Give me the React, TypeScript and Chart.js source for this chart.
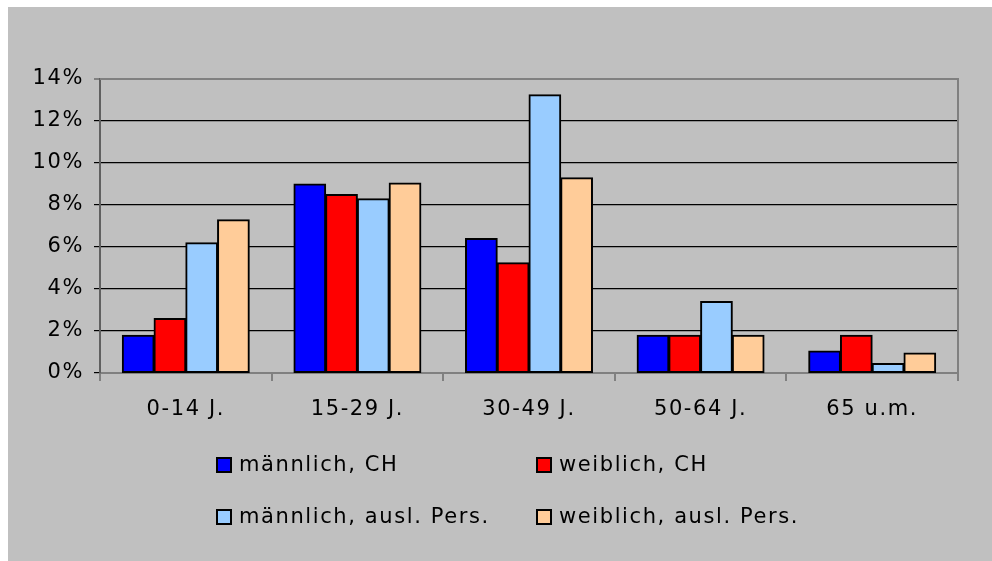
import React, { useEffect, useRef } from "react";
import { Chart, registerables } from "chart.js";

Chart.register(...registerables);

const categories = ["0-14 J.", "15-29 J.", "30-49 J.", "50-64 J.", "65 u.m."];
const seriesNames = ["männlich, CH", "weiblich, CH", "männlich, ausl. Pers.", "weiblich, ausl. Pers."];
const maleCH = [1.8, 9.0, 6.4, 1.8, 1.05];
const femaleCH = [2.6, 8.5, 5.25, 1.8, 1.8];
const maleForeign = [6.2, 8.3, 13.25, 3.4, 0.45];
const femaleForeign = [7.3, 9.05, 9.3, 1.8, 0.95];
const seriesColors = ["#0000FF", "#FF0000", "#99CCFF", "#FFCC99"];
const yTicks = [0, 2, 4, 6, 8, 10, 12, 14];

const FONT = "'DejaVu Sans', Verdana, sans-serif";

const spacingPlugin = {
  id: "spacing",
  beforeDraw(chart: any) {
    (chart.ctx as any).letterSpacing = "1.6px";
  },
};

const framePlugin = {
  id: "frame",
  afterDraw(chart: any) {
    const { ctx, chartArea } = chart;
    ctx.save();
    ctx.strokeStyle = "#808080";
    ctx.lineWidth = 2;
    ctx.beginPath();
    ctx.moveTo(chartArea.left, chartArea.top);
    ctx.lineTo(chartArea.right, chartArea.top);
    ctx.lineTo(chartArea.right, chartArea.bottom);
    ctx.stroke();
    ctx.restore();
  },
};

const legendPlugin = {
  id: "customLegend",
  afterDraw(chart: any) {
    const { ctx } = chart;
    const cols = [208, 528];
    const rows = [450, 502];
    ctx.save();
    (ctx as any).letterSpacing = "1.6px";
    ctx.font = `21px ${FONT}`;
    ctx.textBaseline = "middle";
    ctx.textAlign = "left";
    chart.data.datasets.forEach((ds: any, i: number) => {
      const x = cols[i % 2];
      const y = rows[Math.floor(i / 2)];
      ctx.fillStyle = ds.backgroundColor;
      ctx.fillRect(x, y, 16, 16);
      ctx.strokeStyle = "#000000";
      ctx.lineWidth = 2;
      ctx.strokeRect(x + 1, y + 1, 14, 14);
      ctx.fillStyle = "#000000";
      ctx.fillText(ds.label, x + 23, y + 9);
    });
    ctx.restore();
  },
};

export default function App() {
  const ref = useRef<HTMLCanvasElement>(null);
  useEffect(() => {
    if (!ref.current) return;
    const values = [maleCH, femaleCH, maleForeign, femaleForeign];
    const chart = new Chart(ref.current, {
      type: "bar",
      data: {
        labels: categories,
        datasets: values.map((v, i) => ({
          label: seriesNames[i],
          data: v,
          backgroundColor: seriesColors[i],
          borderColor: "#000000",
          borderWidth: 2,
          borderSkipped: false,
          inflateAmount: 0.5,
          barPercentage: 1,
          categoryPercentage: 0.74,
        })),
      },
      options: {
        animation: false,
        responsive: false,
        maintainAspectRatio: false,
        layout: { padding: { left: 0, right: 34, top: 72, bottom: 128 } },
        plugins: { legend: { display: false }, tooltip: { enabled: false } },
        scales: {
          x: {
            afterFit: (s: any) => {
              s.height = 60;
            },
            grid: {
              offset: true,
              drawOnChartArea: false,
              drawTicks: true,
              tickLength: 8,
              color: "#808080",
              lineWidth: 2,
            },
            border: { color: "#808080", width: 2 },
            ticks: {
              color: "#000000",
              font: { family: FONT, size: 21 },
              padding: 16,
            },
          },
          y: {
            min: 0,
            max: 14,
            afterFit: (s: any) => {
              s.width = 92;
            },
            afterBuildTicks: (s: any) => {
              s.ticks = yTicks.map((v) => ({ value: v }));
            },
            grid: {
              color: (c: any) => (c.tick && c.tick.value === 14 ? "#808080" : "#000000"),
              lineWidth: (c: any) => (c.tick && c.tick.value === 14 ? 2 : 1.2),
              tickLength: 6,
              drawTicks: true,
            },
            border: { color: "#606060", width: 2 },
            ticks: {
              color: "#000000",
              font: { family: FONT, size: 21 },
              padding: 10,
              callback: (v: any) => `${v}%`,
            },
          },
        },
      },
      plugins: [spacingPlugin, framePlugin, legendPlugin],
    });
    return () => chart.destroy();
  }, []);
  return (
    <div
      style={{
        position: "absolute",
        left: 8,
        top: 7,
        width: 984,
        height: 554,
        background: "#C0C0C0",
      }}
    >
      <canvas ref={ref} width={984} height={554} style={{ display: "block" }} />
    </div>
  );
}
